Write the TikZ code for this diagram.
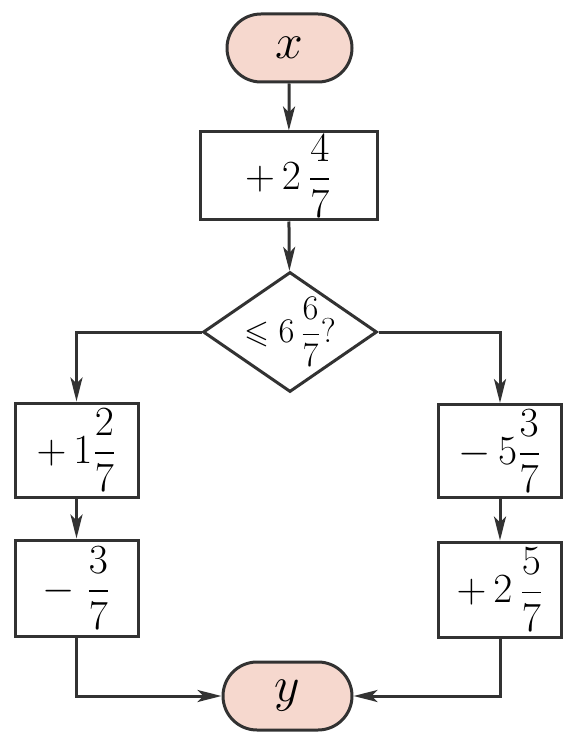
\documentclass[tikz,border=0pt]{standalone}
\usepackage{amsmath,amssymb}
\usepackage{tikz}
\usetikzlibrary{shapes.geometric,arrows.meta}
\usepackage{xcolor}
\definecolor{termpink}{RGB}{246,216,206}
\definecolor{linegray}{RGB}{50,50,50}

\begin{document}
\begin{tikzpicture}[x=0.5pt, y=-0.5pt, >={Stealth[length=12pt,width=6pt,inset=3pt]},
      font=\fontsize{20}{23}\selectfont,
      term/.style={draw=linegray, line width=1.5pt, fill=termpink, rounded corners=17pt,
                   minimum height=34pt, inner sep=0pt, font=\fontsize{25}{28}\selectfont},
      opbox/.style={draw=linegray, line width=1.5pt, minimum width=61.5pt, inner sep=0pt},
      cond/.style={draw=linegray, line width=1.5pt, diamond, aspect=1.45,
                   minimum width=87pt, minimum height=60pt, inner sep=0pt},
      condtext/.style={font=\fontsize{16}{19}\selectfont, inner sep=0pt},
      flow/.style={->, draw=linegray, line width=1.5pt}]
    \useasboundingbox (0,0) rectangle (563,732);
    \node[term, minimum width=62.5pt] (x) at (289.5,48) {$x$};
    \node[opbox, minimum width=88.5pt, minimum height=44pt] (add) at (288.5,176) {$+\,2\,\dfrac{4}{7}$};
    \node[cond, label={[condtext]center:$\leqslant 6\,\dfrac{6}{7}?$}] (test) at (290,332) {};
    \node[opbox, minimum height=47pt] (left1) at (76.5,450) {$+\,1\dfrac{2}{7}$};
    \node[opbox, minimum height=48pt] (left2) at (76.5,588) {$-\;\dfrac{3}{7}$};
    \node[opbox, minimum height=46.5pt] (right1) at (500,451) {$-\,5\dfrac{3}{7}$};
    \node[opbox, minimum height=47.5pt] (right2) at (500,589.5) {$+\,2\,\dfrac{5}{7}$};
    \node[term, minimum width=64.5pt] (y) at (287.5,696) {$y$};

    \draw[flow] (x) -- (add);
    \draw[flow] (add) -- (test);
    \draw[flow] (test.west) -| (left1);
    \draw[flow] (test.east) -| (right1);
    \draw[flow] (left1) -- (left2);
    \draw[flow] (right1) -- (right2);
    \draw[flow] (left2) |- (y);
    \draw[flow] (right2) |- (y);
  \end{tikzpicture}
\end{document}
